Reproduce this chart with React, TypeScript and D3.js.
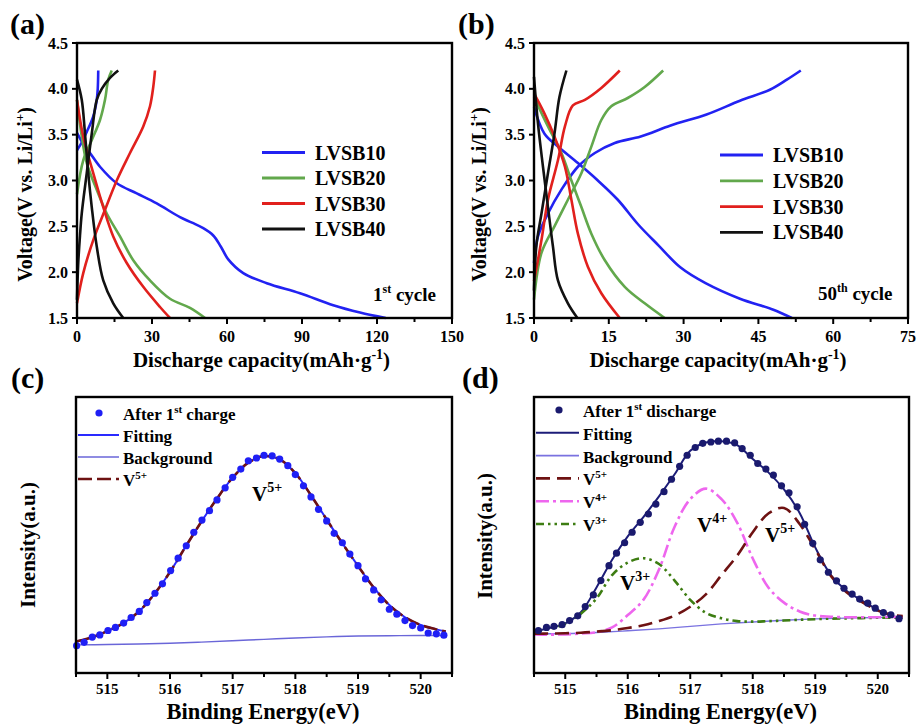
import React from 'react';
import * as d3 from 'd3';

const FONT = "'Liberation Serif','Times New Roman',Times,serif";

// ---------- Panel (a): 1st cycle ----------
const A10_DIS: [number, number][] = [[0, 3.52], [2.5, 3.4], [5.2, 3.3], [9.2, 3.15], [15.9, 2.97], [23.9, 2.86], [31.9, 2.75], [41.2, 2.6], [46, 2.54], [50.5, 2.48], [54.5, 2.4], [57.5, 2.28], [60.5, 2.14], [66.5, 1.99], [75.9, 1.88], [89.2, 1.77], [102.5, 1.64], [113.2, 1.56], [123.5, 1.5]];
const A10_CHG: [number, number][] = [[0, 3.33], [2, 3.42], [3.9, 3.53], [6.5, 3.7], [7.9, 3.88], [8.3, 4.0], [8.5, 4.2]];
const A20_DIS: [number, number][] = [[0, 3.88], [1.8, 3.5], [3.9, 3.19], [7.9, 2.9], [11.9, 2.64], [17.2, 2.39], [22.5, 2.13], [29.2, 1.91], [37.2, 1.71], [45.2, 1.61], [51.2, 1.5]];
const A20_CHG: [number, number][] = [[0, 2.85], [2.5, 3.22], [5.9, 3.44], [9.2, 3.66], [11.2, 3.88], [12.5, 4.1], [13.9, 4.2]];
const A30_DIS: [number, number][] = [[0, 3.88], [2.5, 3.48], [6.5, 3.08], [10.5, 2.71], [14.5, 2.39], [19.9, 2.1], [26.5, 1.84], [33.2, 1.62], [37.2, 1.5]];
const A30_CHG: [number, number][] = [[0, 1.66], [2.5, 1.99], [6.5, 2.35], [11.2, 2.68], [15.9, 3.0], [21.2, 3.3], [26.5, 3.59], [29.2, 3.81], [30.5, 4.02], [31.2, 4.2]];
const A40_DIS: [number, number][] = [[0, 4.1], [1.9, 3.88], [3.2, 3.51], [4.5, 3.08], [5.9, 2.71], [7.9, 2.28], [10.5, 1.91], [14.5, 1.66], [18.5, 1.5]];
const A40_CHG: [number, number][] = [[0, 1.7], [0.5, 2.1], [1.2, 2.4], [1.9, 2.64], [3.9, 3.08], [5.9, 3.51], [7.9, 3.88], [9.9, 4.0], [13.2, 4.12], [16.5, 4.2]];

// ---------- Panel (b): 50th cycle ----------
const B10_DIS: [number, number][] = [[0, 3.8], [2.1, 3.51], [4.8, 3.37], [8.8, 3.19], [12.8, 3.0], [16.8, 2.79], [20.9, 2.52], [25.0, 2.29], [29.4, 2.05], [34.4, 1.88], [41.3, 1.71], [48.0, 1.59], [51.7, 1.5]];
const B10_CHG: [number, number][] = [[0, 2.1], [0.8, 2.39], [2.8, 2.64], [5.5, 2.9], [8.8, 3.15], [12.2, 3.3], [16.2, 3.41], [21.4, 3.48], [27.4, 3.6], [34.6, 3.72], [41.3, 3.87], [47.3, 3.99], [50.7, 4.1], [53.5, 4.2]];
const B20_DIS: [number, number][] = [[0, 3.91], [2.8, 3.59], [5.5, 3.3], [7.5, 3.0], [9.5, 2.71], [11.5, 2.42], [14.2, 2.13], [18.2, 1.84], [22.2, 1.66], [26.2, 1.5]];
const B20_CHG: [number, number][] = [[0, 1.7], [1.5, 2.21], [4.1, 2.5], [6.8, 2.79], [9.5, 3.08], [11.5, 3.37], [13.5, 3.66], [15.5, 3.81], [18.8, 3.9], [22.2, 4.02], [25.9, 4.2]];
const B30_DIS: [number, number][] = [[0, 3.95], [2.1, 3.73], [4.1, 3.48], [6.2, 3.15], [7.5, 2.79], [8.8, 2.42], [10.8, 2.06], [13.5, 1.77], [17.2, 1.5]];
const B30_CHG: [number, number][] = [[0, 1.9], [1.5, 2.35], [2.8, 2.79], [4.8, 3.22], [6.2, 3.59], [7.8, 3.82], [10.2, 3.88], [13.5, 4.01], [17.2, 4.2]];
const B40_DIS: [number, number][] = [[0, 4.13], [0.8, 3.62], [1.8, 3.15], [2.8, 2.71], [3.8, 2.28], [4.8, 1.91], [6.8, 1.66], [8.7, 1.5]];
const B40_CHG: [number, number][] = [[0, 1.8], [0.5, 2.3], [1.5, 2.64], [2.8, 3.08], [4.1, 3.51], [5.1, 3.91], [6.5, 4.2]];

const SAMPLES = ['LVSB10', 'LVSB20', 'LVSB30', 'LVSB40'];
const SAMPLE_COLORS = ['#2222f2', '#62a84c', '#e1201d', '#111111'];
const VOLT_TICKS = [1.5, 2.0, 2.5, 3.0, 3.5, 4.0, 4.5];
const A_CAP_TICKS = [0, 30, 60, 90, 120, 150];
const B_CAP_TICKS = [0, 15, 30, 45, 60, 75];

// ---------- Panel (c)/(d): XPS V 2p3/2 ----------
const C_E = [514.51, 514.63, 514.76, 514.88, 515.01, 515.13, 515.26, 515.38, 515.51, 515.63, 515.76, 515.88, 516.01, 516.13, 516.26, 516.38, 516.51, 516.63, 516.75, 516.88, 517.0, 517.13, 517.25, 517.38, 517.5, 517.63, 517.75, 517.88, 518.0, 518.13, 518.25, 518.37, 518.5, 518.62, 518.75, 518.87, 519.0, 519.12, 519.25, 519.37, 519.5, 519.62, 519.75, 519.87, 520.0, 520.12, 520.25, 520.37];
const C_I = [9.9, 11.1, 13.0, 13.8, 15.4, 16.5, 18.1, 20.1, 22.3, 25.5, 28.9, 32.3, 37.1, 41.6, 46.1, 51.0, 55.4, 58.8, 62.7, 67.1, 70.9, 73.9, 76.9, 77.9, 78.9, 78.7, 77.5, 75.1, 71.9, 67.8, 63.8, 59.3, 55.1, 50.6, 47.2, 43.1, 38.9, 34.1, 30.1, 26.5, 23.1, 21.3, 19.0, 17.2, 16.3, 14.5, 14.2, 13.7];
const FIT_E = [514.5, 514.75, 515.0, 515.25, 515.5, 515.75, 516.0, 516.25, 516.5, 516.75, 517.0, 517.25, 517.5, 517.75, 518.0, 518.25, 518.5, 518.75, 519.0, 519.25, 519.5, 519.75, 520.0, 520.25, 520.4];
const C_FIT = [11.4, 12.9, 15.2, 18.0, 22.2, 28.6, 36.6, 45.8, 54.8, 63.2, 70.8, 76.2, 78.6, 77.4, 72.4, 64.4, 55.6, 47.0, 38.8, 31.0, 24.6, 20.2, 17.4, 15.8, 15.0];
const C_V5 = [11.4, 12.9, 15.2, 18.0, 22.2, 28.6, 36.6, 45.8, 54.8, 63.2, 70.8, 76.2, 78.6, 77.4, 72.4, 64.4, 55.6, 47.0, 38.8, 31.0, 24.6, 20.2, 17.4, 15.8, 15.0];
const BG_E = [514.5, 515.0, 515.5, 516.0, 516.5, 517.0, 517.5, 518.0, 518.5, 519.0, 519.5, 520.0, 520.4];
const C_BG = [10.2, 10.3, 10.5, 10.8, 11.2, 11.7, 12.2, 12.7, 13.1, 13.4, 13.5, 13.6, 13.6];

const D_E = [514.57, 514.7, 514.82, 514.95, 515.07, 515.2, 515.32, 515.45, 515.57, 515.7, 515.82, 515.95, 516.07, 516.2, 516.33, 516.45, 516.58, 516.7, 516.83, 516.95, 517.08, 517.2, 517.33, 517.45, 517.58, 517.71, 517.83, 517.96, 518.08, 518.21, 518.33, 518.46, 518.58, 518.71, 518.83, 518.96, 519.08, 519.21, 519.34, 519.46, 519.59, 519.71, 519.84, 519.96, 520.09, 520.21, 520.34];
const D_I = [15.4, 16.5, 16.9, 17.5, 19.0, 20.7, 24.1, 28.3, 33.5, 38.9, 43.4, 47.2, 51.0, 54.6, 57.6, 61.2, 65.7, 70.2, 74.9, 78.9, 81.7, 83.2, 83.7, 84.0, 84.0, 83.4, 81.3, 78.9, 75.9, 73.9, 71.7, 67.8, 65.3, 60.2, 53.9, 47.0, 41.0, 36.5, 33.4, 30.7, 28.6, 26.8, 25.3, 23.5, 21.9, 21.1, 19.7];
const D_FIT = [15.0, 16.3, 18.0, 22.0, 31.0, 41.0, 49.5, 56.5, 64.0, 72.0, 80.5, 83.5, 84.0, 82.6, 77.5, 72.7, 66.5, 58.0, 45.5, 35.5, 29.8, 26.2, 22.9, 20.5, 20.0];
const D_V5 = [14.2, 14.3, 14.4, 14.6, 15.0, 15.5, 16.3, 17.3, 18.8, 20.8, 24.0, 28.5, 35.5, 42.5, 51.0, 57.8, 59.8, 54.0, 44.8, 35.2, 29.3, 25.7, 22.6, 21.0, 20.6];
const D_V4 = [14.0, 13.9, 14.0, 14.3, 14.8, 16.5, 21.0, 26.5, 37.5, 53.0, 63.0, 66.8, 63.0, 54.5, 41.5, 31.0, 25.5, 22.3, 20.8, 20.4, 20.2, 20.2, 20.2, 20.3, 20.3];
const D_V3 = [15.0, 16.0, 17.8, 21.5, 27.0, 35.5, 40.0, 41.6, 39.5, 33.5, 26.5, 21.8, 19.8, 18.8, 18.6, 18.8, 19.0, 19.3, 19.5, 19.7, 19.8, 19.9, 20.0, 20.0, 20.1];
const D_BG = [14.2, 14.3, 14.7, 15.3, 16.0, 16.9, 17.8, 18.5, 19.1, 19.6, 19.9, 20.1, 20.2];

const BE_TICKS = [515, 516, 517, 518, 519, 520];
const BE_MINOR = [514.5, 515.5, 516.5, 517.5, 518.5, 519.5, 520.5];

const zip = (xs: number[], ys: number[]): [number, number][] => xs.map((x, i) => [x, ys[i]]);

type Box = { l: number; r: number; t: number; b: number };

function Frame({ box }: { box: Box }) {
  return <rect x={box.l} y={box.t} width={box.r - box.l} height={box.b - box.t} fill="none" stroke="#000" strokeWidth={2.4} />;
}

function VoltagePanel({ box, xMax, ticks, series, legend, cycle, label }: any) {
  const xs = d3.scaleLinear().domain([0, xMax]).range([box.l, box.r]);
  const ys = d3.scaleLinear().domain([1.5, 4.5]).range([box.b, box.t]);
  const line = d3.line<[number, number]>().x(d => xs(d[0])).y(d => ys(d[1])).curve(d3.curveCatmullRom.alpha(0.5));
  const step = ticks[1] - ticks[0];
  const minor = ticks.slice(0, -1).map((t: number) => t + step / 2);
  return (
    <g>
      {series.map((s: any, i: number) => (
        <g key={i}>
          <path d={line(s.dis) || ''} fill="none" stroke={SAMPLE_COLORS[s.c]} strokeWidth={2.6} />
          <path d={line(s.chg) || ''} fill="none" stroke={SAMPLE_COLORS[s.c]} strokeWidth={2.6} />
        </g>
      ))}
      <Frame box={box} />
      {ticks.map((t: number) => (
        <g key={'x' + t}>
          <line x1={xs(t)} x2={xs(t)} y1={box.b} y2={box.b + 6} stroke="#000" strokeWidth={2} />
          <text x={xs(t)} y={box.b + 24} textAnchor="middle" fontFamily={FONT} fontWeight="bold" fontSize={16}>{t}</text>
        </g>
      ))}
      {minor.map((t: number) => (
        <line key={'m' + t} x1={xs(t)} x2={xs(t)} y1={box.b} y2={box.b + 4} stroke="#000" strokeWidth={2} />
      ))}
      {VOLT_TICKS.map(t => (
        <g key={'y' + t}>
          <line x1={box.l - 5} x2={box.l} y1={ys(t)} y2={ys(t)} stroke="#000" strokeWidth={2} />
          <text x={box.l - 9} y={ys(t) + 5.5} textAnchor="end" fontFamily={FONT} fontWeight="bold" fontSize={16}>{d3.format('.1f')(t)}</text>
        </g>
      ))}
      {SAMPLES.map((n, i) => (
        <g key={n}>
          <line x1={legend.x} x2={legend.x + 43} y1={legend.y + i * legend.dy} y2={legend.y + i * legend.dy} stroke={SAMPLE_COLORS[i]} strokeWidth={2.8} />
          <text x={legend.x + 53} y={legend.y + i * legend.dy + 7} fontFamily={FONT} fontWeight="bold" fontSize={20}>{n}</text>
        </g>
      ))}
      <text x={cycle.x} y={cycle.y} fontFamily={FONT} fontWeight="bold" fontSize={19}>
        {cycle.n}<tspan dy={-8} fontSize={12}>{cycle.sup}</tspan><tspan dy={8}> cycle</tspan>
      </text>
      <text x={(box.l + box.r) / 2 - 3} y={box.b + 49} textAnchor="middle" fontFamily={FONT} fontWeight="bold" fontSize={21}>
        Discharge capacity(mAh·g<tspan dy={-8} fontSize={14}>-1</tspan><tspan dy={8}>)</tspan>
      </text>
      <text transform={`translate(${label.yx},${(box.t + box.b) / 2 + 14}) rotate(-90)`} textAnchor="middle" fontFamily={FONT} fontWeight="bold" fontSize={20}>
        Voltage(V vs. Li/Li<tspan dy={-8} fontSize={13}>+</tspan><tspan dy={8}>)</tspan>
      </text>
      <text x={label.px} y={34} fontFamily={FONT} fontWeight="bold" fontSize={30}>{label.p}</text>
    </g>
  );
}

function Sup({ base, sup, x, y, size, supSize }: any) {
  return (
    <text x={x} y={y} fontFamily={FONT} fontWeight="bold" fontSize={size}>
      {base}<tspan dy={-size * 0.42} fontSize={supSize}>{sup}</tspan>
    </text>
  );
}

function XpsPanel({ box, dots, dotColor, fit, fitColor, bg, bgColor, comps, legend, peakLabels, label, ylx, yly }: any) {
  const xs = d3.scaleLinear().domain([514.5, 520.5]).range([box.l, box.r]);
  const ys = d3.scaleLinear().domain([0, 100]).range([box.b, box.t]);
  const line = d3.line<[number, number]>().x(d => xs(d[0])).y(d => ys(d[1])).curve(d3.curveCatmullRom.alpha(0.5));
  const lx = box.l + 2;
  return (
    <g>
      <path d={line(zip(BG_E, bg)) || ''} fill="none" stroke={bgColor} strokeWidth={1.4} />
      <path d={line(zip(FIT_E, fit)) || ''} fill="none" stroke={fitColor} strokeWidth={2} />
      {comps.map((c: any, i: number) => (
        <path key={i} d={line(zip(FIT_E, c.v)) || ''} fill="none" stroke={c.color} strokeWidth={2.6} strokeDasharray={c.dash} />
      ))}
      {dots.map((d: [number, number], i: number) => (
        <circle key={i} cx={xs(d[0])} cy={ys(d[1])} r={3.6} fill={dotColor} />
      ))}
      <Frame box={box} />
      {BE_TICKS.map(t => (
        <g key={t}>
          <line x1={xs(t)} x2={xs(t)} y1={box.b} y2={box.b + 6} stroke="#000" strokeWidth={2} />
          <text x={xs(t)} y={box.b + 21} textAnchor="middle" fontFamily={FONT} fontWeight="bold" fontSize={15}>{t}</text>
        </g>
      ))}
      {BE_MINOR.map(t => (
        <line key={'m' + t} x1={xs(t)} x2={xs(t)} y1={box.b} y2={box.b + 4} stroke="#000" strokeWidth={2} />
      ))}
      {/* legend */}
      <circle cx={legend.dotX} cy={legend.y0} r={3.6} fill={dotColor} />
      <text x={legend.tx} y={legend.y0 + 6.5} fontFamily={FONT} fontWeight="bold" fontSize={17}>
        After 1<tspan dy={-7} fontSize={11}>st</tspan><tspan dy={7}> {legend.first}</tspan>
      </text>
      {legend.items.map((it: any, i: number) => {
        const y = legend.y0 + (i + 1) * legend.dy;
        return (
          <g key={i}>
            <line x1={lx} x2={legend.tx - 4} y1={y} y2={y} stroke={it.color} strokeWidth={it.w} strokeDasharray={it.dash} />
            {it.sup ? (
              <Sup base={it.name} sup={it.sup} x={legend.tx} y={y + 7} size={17} supSize={11} />
            ) : (
              <text x={legend.tx} y={y + 7} fontFamily={FONT} fontWeight="bold" fontSize={17}>{it.name}</text>
            )}
          </g>
        );
      })}
      {peakLabels.map((p: any, i: number) => (
        <Sup key={i} base="V" sup={p.sup} x={p.x} y={p.y} size={21} supSize={14} />
      ))}
      <text x={(box.l + box.r) / 2 - 1} y={box.b + 46} textAnchor="middle" fontFamily={FONT} fontWeight="bold" fontSize={22.5}>Binding Energy(eV)</text>
      <text transform={`translate(${ylx},${yly}) rotate(-90)`} textAnchor="middle" fontFamily={FONT} fontWeight="bold" fontSize={21}>Intensity(a.u.)</text>
      <text x={label.px} y={388} fontFamily={FONT} fontWeight="bold" fontSize={30}>{label.p}</text>
    </g>
  );
}

export default function App() {
  const boxA = { l: 77, r: 452, t: 43, b: 318 };
  const boxB = { l: 534, r: 908, t: 43, b: 318 };
  const boxC = { l: 76, r: 452, t: 397, b: 673 };
  const boxD = { l: 534, r: 909, t: 397, b: 673 };
  const seriesA = [
    { dis: A10_DIS, chg: A10_CHG, c: 0 }, { dis: A20_DIS, chg: A20_CHG, c: 1 },
    { dis: A30_DIS, chg: A30_CHG, c: 2 }, { dis: A40_DIS, chg: A40_CHG, c: 3 },
  ];
  const seriesB = [
    { dis: B10_DIS, chg: B10_CHG, c: 0 }, { dis: B20_DIS, chg: B20_CHG, c: 1 },
    { dis: B30_DIS, chg: B30_CHG, c: 2 }, { dis: B40_DIS, chg: B40_CHG, c: 3 },
  ];
  const V5C = '#6e1212';
  return (
    <div style={{ position: 'absolute', left: 0, top: 0 }}>
      <svg width={917} height={726} style={{ display: 'block', background: '#fff' }}>
        <VoltagePanel box={boxA} xMax={150} ticks={A_CAP_TICKS} series={seriesA}
          legend={{ x: 262, y: 152.5, dy: 25.5 }} cycle={{ x: 373, y: 301, n: '1', sup: 'st' }}
          label={{ yx: 32, px: 10, p: '(a)' }} />
        <VoltagePanel box={boxB} xMax={75} ticks={B_CAP_TICKS} series={seriesB}
          legend={{ x: 720, y: 155, dy: 25.8 }} cycle={{ x: 818, y: 300, n: '50', sup: 'th' }}
          label={{ yx: 486, px: 458, p: '(b)' }} />
        <XpsPanel box={boxC} dots={zip(C_E, C_I)} dotColor="#1f1ff5" fit={C_FIT} fitColor="#2a2aff"
          bg={C_BG} bgColor="#6a66d8"
          comps={[{ v: C_V5, color: V5C, dash: '14,5' }]}
          legend={{ dotX: 99, y0: 413, dy: 22, tx: 123, first: 'charge', items: [
            { name: 'Fitting', color: '#2a2aff', w: 2 },
            { name: 'Background', color: '#6a66d8', w: 1.6 },
            { name: 'V', sup: '5+', color: V5C, w: 2.6, dash: '14,5' },
          ] }}
          peakLabels={[{ sup: '5+', x: 252, y: 501 }]}
          label={{ px: 11, p: '(c)' }} ylx={35} yly={545} />
        <XpsPanel box={boxD} dots={zip(D_E, D_I)} dotColor="#1a1a6e" fit={D_FIT} fitColor="#1c1c78"
          bg={D_BG} bgColor="#7a72e0"
          comps={[
            { v: D_V3, color: '#3d7d12', dash: '8,4,2.5,4,2.5,4' },
            { v: D_V4, color: '#ee66ee', dash: '13,4,3,4' },
            { v: D_V5, color: V5C, dash: '14,7' },
          ]}
          legend={{ dotX: 559, y0: 410, dy: 22.8, tx: 583, first: 'discharge', items: [
            { name: 'Fitting', color: '#1c1c78', w: 2 },
            { name: 'Background', color: '#7a72e0', w: 1.6 },
            { name: 'V', sup: '5+', color: V5C, w: 2.6, dash: '14,7' },
            { name: 'V', sup: '4+', color: '#ee66ee', w: 2.6, dash: '13,4,3,4' },
            { name: 'V', sup: '3+', color: '#3d7d12', w: 2.6, dash: '8,4,2.5,4,2.5,4' },
          ] }}
          peakLabels={[{ sup: '3+', x: 620, y: 590 }, { sup: '4+', x: 697, y: 532 }, { sup: '5+', x: 765, y: 542 }]}
          label={{ px: 462, p: '(d)' }} ylx={492} yly={536} />
      </svg>
    </div>
  );
}
